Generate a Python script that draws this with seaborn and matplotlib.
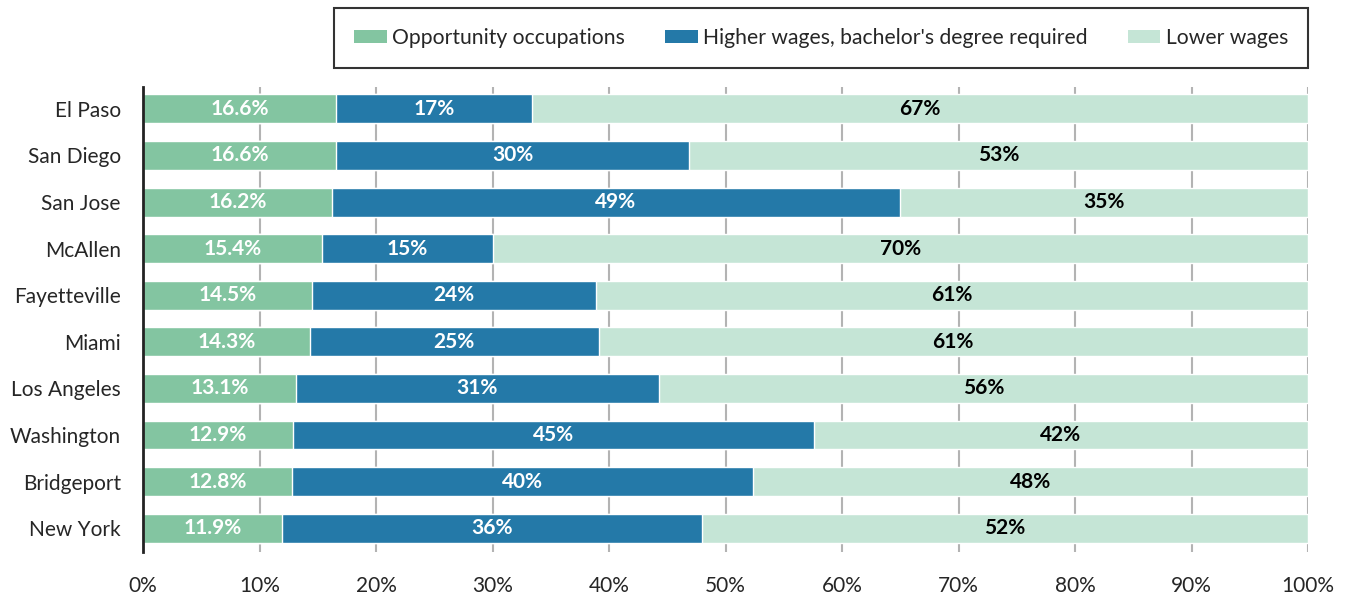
"""Stacked horizontal bars: share of jobs by occupation type, per metro."""

import matplotlib
matplotlib.use("Agg")
import matplotlib.pyplot as plt
from matplotlib.patches import Patch
import numpy as np
import pandas as pd
import seaborn as sns

cities = ["El Paso", "San Diego", "San Jose", "McAllen", "Fayetteville",
          "Miami", "Los Angeles", "Washington", "Bridgeport", "New York"]
opportunity = [16.6, 16.6, 16.2, 15.4, 14.5, 14.3, 13.1, 12.9, 12.8, 11.9]
higher_ba = [16.8, 30.3, 48.8, 14.6, 24.4, 24.8, 31.2, 44.7, 39.6, 36.1]
lower = [66.6, 53.1, 35.0, 70.0, 61.1, 60.9, 55.7, 42.4, 47.6, 52.0]
series_names = ["Opportunity occupations",
                "Higher wages, bachelor's degree required", "Lower wages"]
colors = ["#83C5A1", "#2479A8", "#C5E5D6"]

df = pd.DataFrame({"city": cities, "opp": opportunity,
                   "ba": higher_ba, "low": lower})
df["cum_ba"] = df["opp"] + df["ba"]
df["cum_low"] = df["cum_ba"] + df["low"]

sns.set_style("white")
plt.rcParams["font.family"] = ["Lato", "DejaVu Sans"]

W, H = 1346, 595
fig, ax = plt.subplots(figsize=(W / 100, H / 100), dpi=100)
fig.subplots_adjust(left=143 / W, right=1308 / W, top=1 - 87 / H, bottom=1 - 552 / H)

# stack by overdrawing cumulative totals
for col, color in zip(["cum_low", "cum_ba", "opp"], colors[::-1]):
    sns.barplot(data=df, y="city", x=col, color=color, orient="h",
                width=0.62, ax=ax, zorder=3, saturation=1)

# segment labels
lab = dict(ha="center", va="center", fontsize=15, fontweight="bold", zorder=4)
for i, row in df.iterrows():
    ax.text(row["opp"] / 2, i, f"{row['opp']:.1f}%", color="white", **lab)
    ax.text(row["opp"] + row["ba"] / 2, i, f"{row['ba']:.0f}%", color="white", **lab)
    ax.text(row["cum_ba"] + row["low"] / 2, i, f"{row['low']:.0f}%", color="black", **lab)

ax.set_xlim(0, 100)
ax.set_ylim(9.51, -0.47)
ax.set_xticks(np.arange(0, 101, 10))
ax.set_xticklabels([f"{t}%" for t in range(0, 101, 10)])
ax.xaxis.grid(True, color="#B3B3B3", linewidth=1.5, zorder=0)
ax.set_axisbelow(True)
ax.set_xlabel("")
ax.set_ylabel("")
ax.tick_params(axis="x", length=0, pad=17, labelsize=15)
ax.tick_params(axis="y", length=0, pad=16, labelsize=15)
for s in ["top", "right", "bottom"]:
    ax.spines[s].set_visible(False)
ax.spines["left"].set_color("#222222")
ax.spines["left"].set_linewidth(2)
ax.spines["left"].set_zorder(5)

handles = [Patch(facecolor=c, edgecolor="none", label=n)
           for c, n in zip(colors, series_names)]
leg = fig.legend(handles=handles, ncol=3, loc="upper right",
                 bbox_to_anchor=(1308 / W, 1 - 8 / H), fontsize=15.2,
                 frameon=True, fancybox=False, edgecolor="black",
                 handlelength=1.55, handleheight=0.6, handletextpad=0.25,
                 columnspacing=1.9, borderpad=0.95, borderaxespad=0)
leg.get_frame().set_linewidth(1.5)

fig.savefig("out.png", dpi=100)
